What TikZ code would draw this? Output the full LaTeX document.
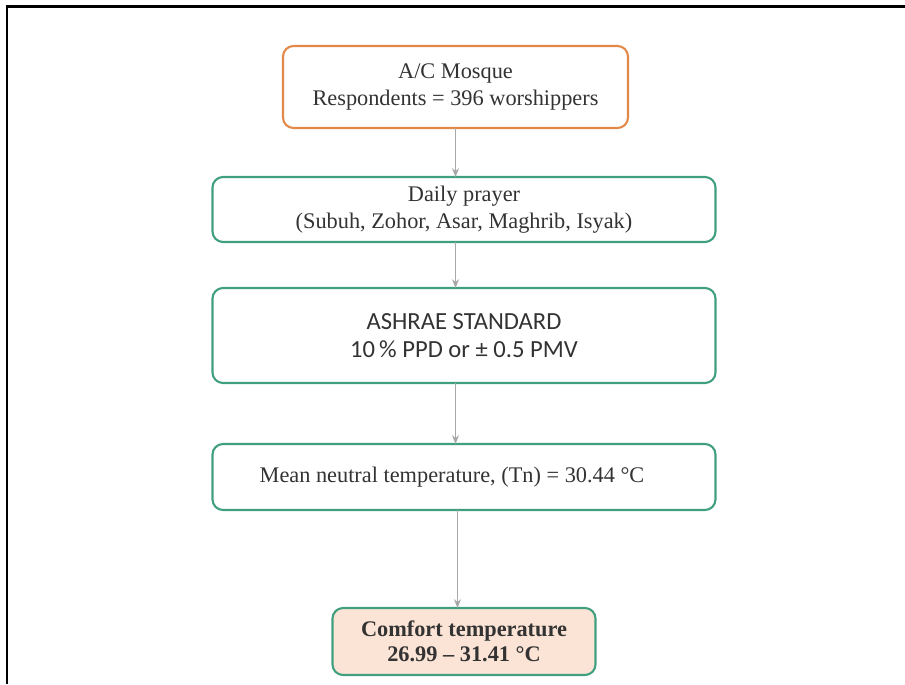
\documentclass[tikz,border=0pt]{standalone}
\usepackage{fontspec}
\setmainfont{Liberation Serif}
\newfontfamily\calibrifont{Carlito}
\usepackage{tikz}
\usetikzlibrary{arrows.meta, positioning}
\definecolor{corange}{HTML}{E2894A}
\definecolor{cgreen}{HTML}{3F9F7E}
\definecolor{cpeach}{HTML}{FBE4D6}
\definecolor{carrow}{HTML}{A8A8A8}
\definecolor{ctext}{HTML}{333333}

\begin{document}
\begin{tikzpicture}[
  node distance=1.0cm,
  box/.style={draw, rounded corners=6pt, line width=1.2pt, inner sep=0pt,
              outer sep=0pt, align=center, text=ctext,
              font=\fontsize{12.7}{15}\selectfont},
  source/.style={box, draw=corange, fill=white,
                 minimum width=6.9cm, minimum height=1.64cm},
  stage/.style={box, draw=cgreen, fill=white,
                minimum width=10.06cm, minimum height=1.3cm},
  result/.style={box, draw=cgreen, fill=cpeach,
                 minimum width=5.26cm, minimum height=1.34cm,
                 font=\fontsize{12.7}{14.5}\selectfont\bfseries},
  arr/.style={-{Stealth[length=5pt, width=4pt]}, carrow, line width=0.8pt}
]
\useasboundingbox (0,0) rectangle (18.1,-13.68);
% frame
\draw[line width=1.7pt] (0.14,-13.68) -- (0.14,-0.13) -- (18.1,-0.13);

\node[source] (mosque) at (9.11,-1.74)
    {A/C Mosque \\ Respondents = 396 worshippers};
\node[stage, below=0.98cm of mosque, xshift=0.17cm] (prayer)
    {Daily prayer \\ (Subuh, Zohor, Asar, Maghrib, Isyak)};
\node[stage, below=0.92cm of prayer, minimum height=1.9cm,
      font=\calibrifont\fontsize{14}{15.5}\selectfont] (ashrae)
    {ASHRAE STANDARD \\ 10\,\% PPD or ± 0.5 PMV};
\node[stage, below=1.22cm of ashrae, minimum height=1.32cm] (neutral)
    {Mean neutral temperature, (Tn) = 30.44 °C\hspace*{0.48cm}};
\node[result, below=1.96cm of neutral] (comfort)
    {Comfort temperature \\ 26.99 -- 31.41 °C};

\draw[arr] (mosque.south) -- (mosque.south |- prayer.north);
\draw[arr] (prayer.south -| mosque) -- (ashrae.north -| mosque);
\draw[arr] (ashrae.south -| mosque) -- (neutral.north -| mosque);
\draw[arr] ([xshift=0.04cm]neutral.south -| mosque) -- ([xshift=0.04cm]comfort.north -| mosque);
\end{tikzpicture}
\end{document}
